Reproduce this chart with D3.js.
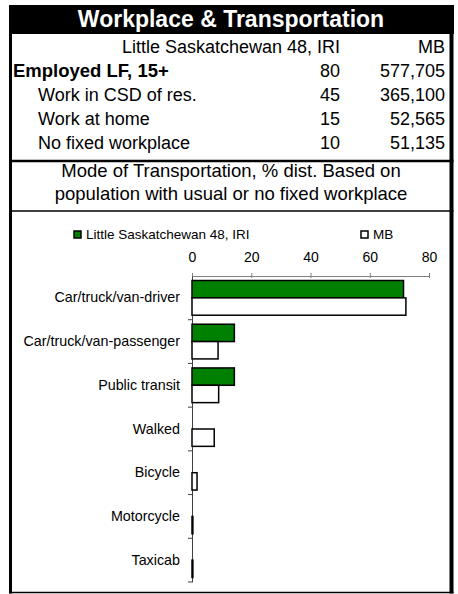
<!DOCTYPE html>
<html>
<head>
<meta charset="utf-8">
<script src="https://cdn.jsdelivr.net/npm/d3@7"></script>
<style>
  body { margin: 0; background: #fff; }
  svg text { font-family: 'Liberation Sans', Arial, sans-serif; fill: #000; }
</style>
</head>
<body>
<div id="chart"></div>
<script>
var title = 'Workplace & Transportation'
var colHeaders = ['Little Saskatchewan 48, IRI', 'MB']
var rowLabels = ['Employed LF, 15+', 'Work in CSD of res.', 'Work at home', 'No fixed workplace']
var localValues = ['80', '45', '15', '10']
var mbValues = ['577,705', '365,100', '52,565', '51,135']
var subtitle = ['Mode of Transportation, % dist. Based on', 'population with usual or no fixed workplace']

var seriesNames = ['Little Saskatchewan 48, IRI', 'MB']
var categories = ['Car/truck/van-driver', 'Car/truck/van-passenger', 'Public transit', 'Walked', 'Bicycle', 'Motorcycle', 'Taxicab']
var localPct = [71.4, 14.3, 14.3, 0, 0, 0, 0]
var mbPct = [72.2, 8.8, 9.0, 7.5, 1.7, 0.3, 0.3]
var xTicks = [0, 20, 40, 60, 80]

var width = 458
var height = 594
var colors = ['#008000', '#ffffff']

var svg = d3.select('#chart').append('svg')
  .attr('width', width)
  .attr('height', height)

// frame and title bar
svg.append('rect')
  .attr('x', 9).attr('y', 5)
  .attr('width', 445).attr('height', 29)
  .attr('fill', '#000')

svg.append('text')
  .attr('x', 231).attr('y', 27)
  .attr('text-anchor', 'middle')
  .style('font-size', '23px')
  .style('font-weight', 'bold')
  .style('fill', '#fff')
  .text(title)

svg.append('line').attr('x1', 10.5).attr('x2', 10.5).attr('y1', 5).attr('y2', 593.5)
  .attr('stroke', '#000').attr('stroke-width', 3)
svg.append('line').attr('x1', 451.5).attr('x2', 451.5).attr('y1', 5).attr('y2', 593.5)
  .attr('stroke', '#000').attr('stroke-width', 4)
svg.append('line').attr('x1', 9).attr('x2', 453.5).attr('y1', 592.5).attr('y2', 592.5)
  .attr('stroke', '#000').attr('stroke-width', 1.5)
svg.append('line').attr('x1', 9).attr('x2', 453.5).attr('y1', 161).attr('y2', 161)
  .attr('stroke', '#000').attr('stroke-width', 2.5)
svg.append('line').attr('x1', 9).attr('x2', 453.5).attr('y1', 211).attr('y2', 211)
  .attr('stroke', '#000').attr('stroke-width', 1.5)

// table
var tableFont = '18px'
var rowY = d3.scalePoint().domain(d3.range(5)).range([53, 149])

svg.append('text')
  .attr('x', 340).attr('y', rowY(0))
  .attr('text-anchor', 'end')
  .style('font-size', tableFont)
  .text(colHeaders[0])
svg.append('text')
  .attr('x', 445).attr('y', rowY(0))
  .attr('text-anchor', 'end')
  .style('font-size', tableFont)
  .text(colHeaders[1])

var rows = svg.selectAll('g.row')
  .data(rowLabels)
  .enter().append('g')
  .attr('class', 'row')
  .attr('transform', function (d, i) { return 'translate(0,' + rowY(i + 1) + ')' })

rows.append('text')
  .attr('x', function (d, i) { return i === 0 ? 13 : 38 })
  .style('font-size', function (d, i) { return i === 0 ? '18.5px' : tableFont })
  .style('font-weight', function (d, i) { return i === 0 ? 'bold' : 'normal' })
  .text(function (d) { return d })

rows.append('text')
  .attr('x', 340)
  .attr('text-anchor', 'end')
  .style('font-size', tableFont)
  .text(function (d, i) { return localValues[i] })

rows.append('text')
  .attr('x', 445)
  .attr('text-anchor', 'end')
  .style('font-size', tableFont)
  .text(function (d, i) { return mbValues[i] })

svg.selectAll('text.sub')
  .data(subtitle)
  .enter().append('text')
  .attr('class', 'sub')
  .attr('x', 231)
  .attr('y', function (d, i) { return 177 + i * 23 })
  .attr('text-anchor', 'middle')
  .style('font-size', '18.5px')
  .text(function (d) { return d })

// bar chart
var x = d3.scaleLinear()
  .domain([0, 80])
  .range([192, 429])

var y = d3.scaleBand()
  .domain(categories)
  .range([276, 582])

var ySeries = d3.scaleBand()
  .domain(seriesNames)
  .range([0, y.bandwidth()])
  .paddingOuter(0.26)

var xAxis = d3.axisTop(x)
  .tickValues(xTicks)
  .tickSizeInner(3)
  .tickSizeOuter(0)
  .tickPadding(11)

var gx = svg.append('g')
  .attr('class', 'x axis')
  .attr('transform', 'translate(0,276)')
  .call(xAxis)
gx.select('.domain').attr('stroke', '#808080')
gx.selectAll('.tick line').attr('stroke', '#808080').attr('y2', 2).attr('y1', -3)
gx.selectAll('.tick text')
  .style('font-size', '14px')
  .attr('font-family', null)

var yAxis = d3.axisLeft(y)
  .tickSize(0)
  .tickPadding(12)

var gy = svg.append('g')
  .attr('class', 'y axis')
  .attr('transform', 'translate(192,0)')
  .call(yAxis)
gy.select('.domain').attr('stroke', '#404040')
gy.selectAll('.tick text')
  .style('font-size', '14.3px')
  .attr('font-family', null)

// category separator ticks
svg.append('g')
  .selectAll('line')
  .data(categories.slice(1).concat(['end']))
  .enter().append('line')
  .attr('x1', 188).attr('x2', 192)
  .attr('y1', function (d, i) { return y.range()[0] + (i + 1) * y.step() })
  .attr('y2', function (d, i) { return y.range()[0] + (i + 1) * y.step() })
  .attr('stroke', '#404040')

var series = [localPct, mbPct]
var groups = svg.selectAll('g.series')
  .data(series)
  .enter().append('g')
  .attr('class', 'series')

groups.selectAll('rect')
  .data(function (vals, si) {
    return vals.map(function (v, ci) { return { si: si, cat: categories[ci], v: v } })
  })
  .enter().append('rect')
  .filter(function (d) { return d.v > 0 })
  .attr('x', x(0))
  .attr('y', function (d) { return y(d.cat) + ySeries(seriesNames[d.si]) })
  .attr('width', function (d) { return x(d.v) - x(0) })
  .attr('height', ySeries.bandwidth())
  .attr('fill', function (d) { return colors[d.si] })
  .attr('stroke', '#000')
  .attr('stroke-width', 1.5)

// legend
var legendX = [74, 361]
var legend = svg.selectAll('g.legend')
  .data(seriesNames)
  .enter().append('g')
  .attr('class', 'legend')
  .attr('transform', function (d, i) { return 'translate(' + legendX[i] + ',231)' })

legend.append('rect')
  .attr('width', 7).attr('height', 7)
  .attr('fill', function (d, i) { return colors[i] })
  .attr('stroke', '#000')
  .attr('stroke-width', 1.5)

legend.append('text')
  .attr('x', 12).attr('y', 8)
  .style('font-size', '13.5px')
  .text(function (d) { return d })
</script>
</body>
</html>
